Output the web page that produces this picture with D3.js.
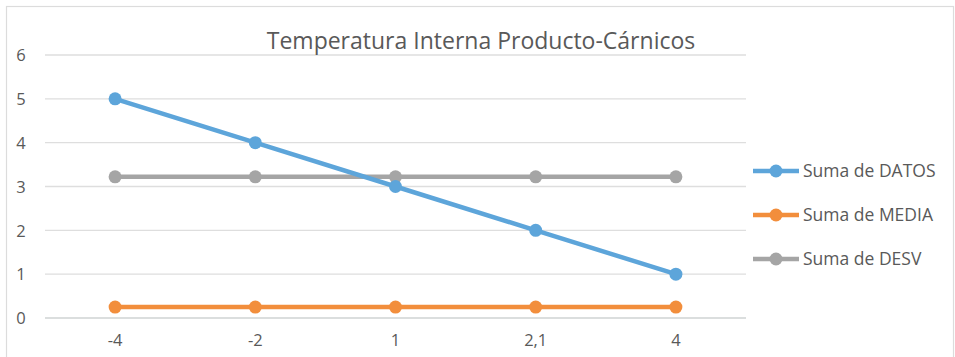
<!DOCTYPE html>
<html>
<head>
<meta charset="utf-8">
<script src="https://cdn.jsdelivr.net/npm/d3@7"></script>
<style>
  html, body { margin: 0; padding: 0; background: #fff; }
  svg { display: block; }
  text { font-family: "Open Sans", Lato, sans-serif; fill: #595959; }
</style>
</head>
<body>
<svg id="chart" width="955" height="357"></svg>
<script>
const categories = ["-4", "-2", "1", "2,1", "4"];
const datos = [5, 4, 3, 2, 1];
const media = [0.25, 0.25, 0.25, 0.25, 0.25];
const desv = [3.22, 3.22, 3.22, 3.22, 3.22];
const yTicks = [0, 1, 2, 3, 4, 5, 6];

const seriesList = [
  { name: "Suma de DATOS", values: datos, color: "#5da5da" },
  { name: "Suma de MEDIA", values: media, color: "#f28e3c" },
  { name: "Suma de DESV", values: desv, color: "#a5a5a5" }
];
// draw order: DESV under DATOS so the blue line crosses on top
const drawOrder = [seriesList[1], seriesList[2], seriesList[0]];

const svg = d3.select("#chart");
const font = "'Open Sans', Lato, sans-serif";

// chart frame
svg.append("rect")
  .attr("x", 6.5).attr("y", 6.5)
  .attr("width", 947).attr("height", 360)
  .attr("fill", "#fff").attr("stroke", "#dcdcdc").attr("stroke-width", 1.2);

const plot = { left: 45, right: 746, top: 55, bottom: 318 };

const x = d3.scaleBand().domain(categories).range([plot.left, plot.right]);
const y = d3.scaleLinear().domain([0, 6]).range([plot.bottom, plot.top]);

// horizontal gridlines
svg.append("g")
  .selectAll("line")
  .data(yTicks)
  .join("line")
  .attr("x1", plot.left).attr("x2", plot.right)
  .attr("y1", d => y(d)).attr("y2", d => y(d))
  .attr("stroke", d => d === 0 ? "#cfd3d3" : "#dedede")
  .attr("stroke-width", 1.3);

// y axis labels
const yAxis = d3.axisLeft(y).tickValues(yTicks).tickSize(0).tickPadding(0).tickFormat(d3.format("d"));
const gy = svg.append("g").attr("transform", "translate(21,0)").call(yAxis);
gy.select(".domain").remove();
gy.selectAll("text")
  .attr("text-anchor", "middle")
  .attr("dy", "0.35em")
  .style("font-size", "16.5px")
  .style("fill", "#595959")
  .style("font-family", font);

// x axis labels
const xAxis = d3.axisBottom(x).tickSize(0).tickPadding(0);
const gx = svg.append("g").attr("transform", `translate(0,${plot.bottom + 16})`).call(xAxis);
gx.select(".domain").remove();
gx.selectAll("text")
  .attr("dy", "0.71em")
  .style("font-size", "16.5px")
  .style("fill", "#595959")
  .style("font-family", font);

const cx = c => x(c) + x.bandwidth() / 2;
const line = d3.line()
  .x((d, i) => cx(categories[i]))
  .y(d => y(d));

drawOrder.forEach(s => {
  const g = svg.append("g");
  g.append("path")
    .datum(s.values)
    .attr("d", line)
    .attr("fill", "none")
    .attr("stroke", s.color)
    .attr("stroke-width", 4.5)
    .attr("stroke-linejoin", "round");
  g.selectAll("circle")
    .data(s.values)
    .join("circle")
    .attr("cx", (d, i) => cx(categories[i]))
    .attr("cy", d => y(d))
    .attr("r", 6.5)
    .attr("fill", s.color);
});

// title
svg.append("text")
  .attr("x", 481).attr("y", 49)
  .attr("text-anchor", "middle")
  .style("font-size", "23px")
  .style("fill", "#595959")
  .text("Temperatura Interna Producto-Cárnicos");

// legend
const legend = svg.append("g");
seriesList.forEach((s, i) => {
  const ly = 171 + i * 44;
  legend.append("line")
    .attr("x1", 753).attr("x2", 799)
    .attr("y1", ly).attr("y2", ly)
    .attr("stroke", s.color).attr("stroke-width", 4.5);
  legend.append("circle")
    .attr("cx", 776).attr("cy", ly).attr("r", 6.5).attr("fill", s.color);
  legend.append("text")
    .attr("x", 803).attr("y", ly)
    .attr("dy", "0.35em")
    .style("font-size", "17.5px")
    .text(s.name);
});
</script>
</body>
</html>
